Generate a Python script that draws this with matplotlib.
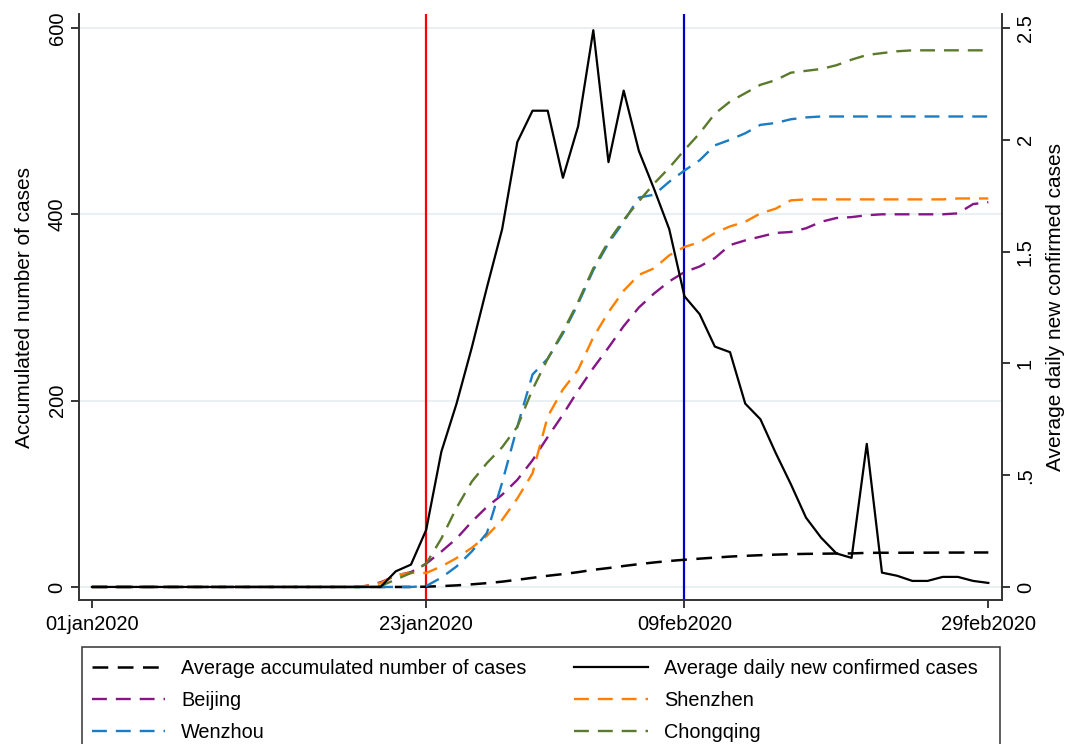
import numpy as np
import matplotlib
matplotlib.use('Agg')
import matplotlib.pyplot as plt
from matplotlib.patches import Rectangle

plt.rcParams['font.family'] = ['Liberation Sans', 'DejaVu Sans']

# days since 01jan2020 (01jan .. 29feb)
days = np.arange(60)
tick_days = [0, 22, 39, 59]
tick_labels = ['01jan2020', '23jan2020', '09feb2020', '29feb2020']

# average daily new confirmed cases (right axis)
daily_avg = [0]*20 + [0.07, 0.10, 0.255, 0.605, 0.82, 1.07, 1.34, 1.60, 1.99, 2.13,
             2.13, 1.83, 2.06, 2.49, 1.90, 2.22, 1.95, 1.78, 1.60, 1.30,
             1.22, 1.075, 1.05, 0.82, 0.75, 0.60, 0.46, 0.31, 0.22, 0.15,
             0.13, 0.64, 0.064, 0.05, 0.027, 0.027, 0.045, 0.045, 0.027, 0.018]

# average accumulated number of cases (left axis)
accum_avg = [0]*22 + [0.3, 0.9, 1.7, 2.8, 4.1, 5.7, 7.7, 9.8,
             12.0, 13.8, 15.9, 18.4, 20.3, 22.5, 24.5, 26.3, 27.9, 29.2,
             30.4, 31.5, 32.6, 33.4, 34.1, 34.7, 35.2, 35.5, 35.7, 35.9,
             36.0, 36.6, 36.7, 36.7, 36.8, 36.8, 36.9, 36.9, 37.0, 37.0]

beijing = [0]*18 + [1, 5, 12, 16, 25, 38, 52, 70, 86, 99, 115, 136,
           161, 185, 211, 235, 257, 280, 300, 315, 328, 338,
           344, 353, 367, 372, 376, 380, 381, 385, 392, 396,
           397, 399, 400, 400, 400, 400, 400, 401, 411, 413]

shenzhen = [0]*18 + [1, 4, 13, 15, 15, 22, 31, 42, 55, 72, 95, 122,
            183, 212, 233, 268, 295, 318, 335, 342, 356, 365,
            370, 380, 387, 392, 401, 406, 415, 416, 416, 416,
            416, 416, 416, 416, 416, 416, 416, 417, 417, 417]

wenzhou = [0]*22 + [1, 10, 22, 38, 58, 112, 172, 228,
           245, 272, 304, 340, 369, 392, 418, 421, 435, 447,
           458, 474, 480, 487, 496, 498, 502, 504, 505, 505,
           505, 505, 505, 505, 505, 505, 505, 505, 505, 505]

chongqing = [0]*18 + [0, 1, 8, 15, 25, 52, 85, 113, 133, 150, 172, 212,
             245, 274, 306, 342, 371, 394, 414, 433, 450, 469,
             487, 508, 521, 530, 539, 544, 552, 554, 556, 560,
             566, 571, 573, 575, 576, 576, 576, 576, 576, 576]

c_beij = '#861585'
c_shen = '#ff8000'
c_wenz = '#1a7cc4'
c_chon = '#5b7a2c'
dash = (0, (6.3, 3.8))

fig = plt.figure(figsize=(10.69, 7.44), dpi=100)
ax = fig.add_axes([79/1069, 1-600/744, (1002-79)/1069, (600-14)/744])
ax2 = ax.twinx()

ax.set_xlim(-0.85, 59.9)
ax.set_ylim(-14, 615)
ax2.set_ylim(-14/240, 615/240)

for a in (ax, ax2):
    a.spines['top'].set_visible(False)
    for s in a.spines.values():
        s.set_color('#333333')
        s.set_linewidth(1.2)

ax.set_yticks([0, 200, 400, 600])
ax.grid(axis='y', color='#e8f0f2', linewidth=1.5)
ax.set_axisbelow(True)
ax2.set_yticks([0, 0.5, 1, 1.5, 2, 2.5])
ax2.set_yticklabels(['0', '.5', '1', '1.5', '2', '2.5'])

ax.set_xticks(tick_days)
ax.set_xticklabels(tick_labels)

ax.tick_params(axis='x', length=6, width=1.1, labelsize=14.5, pad=5)
ax.tick_params(axis='y', length=6, width=1.1, labelsize=14.5, pad=3, labelrotation=90)
ax2.tick_params(axis='y', length=6, width=1.1, labelsize=14.5, pad=4, labelrotation=90)
for lab in ax.get_yticklabels() + ax2.get_yticklabels():
    lab.set_va('center')

ax.set_ylabel('Accumulated number of cases', fontsize=15, labelpad=10)
ax2.set_ylabel('Average daily new confirmed cases', fontsize=15, labelpad=8)

ax.axvline(22, color='#ff0000', lw=1.6)
ax.axvline(39, color='#0000cc', lw=1.6)

l1, = ax.plot(days, accum_avg, color='black', lw=1.8, linestyle=dash)
l3, = ax.plot(days, beijing, color=c_beij, lw=1.7, linestyle=dash)
l4, = ax.plot(days, shenzhen, color=c_shen, lw=1.7, linestyle=dash)
l5, = ax.plot(days, wenzhou, color=c_wenz, lw=1.7, linestyle=dash)
l6, = ax.plot(days, chongqing, color=c_chon, lw=1.7, linestyle=dash)
l2, = ax2.plot(days, daily_avg, color='black', lw=1.6)

# legend frame (runs off the bottom like the original)
fig.patches.append(Rectangle((82/1069, -0.05), (1000-82)/1069, 0.05 + 1-647/744,
                             transform=fig.transFigure, fill=False,
                             edgecolor='#333333', lw=1.1, clip_on=False))

# column-major order so rows read: accum | daily, Beijing | Shenzhen, Wenzhou | Chongqing
handles = [l1, l3, l5, l2, l4, l6]
labels = ['Average accumulated number of cases', 'Beijing', 'Wenzhou',
          'Average daily new confirmed cases', 'Shenzhen', 'Chongqing']
fig.legend(handles, labels, ncol=2, loc='upper left',
           bbox_to_anchor=(85/1069, 1-652/744),
           fontsize=14.3, frameon=False,
           handlelength=3.7, handletextpad=0.8, columnspacing=2.4,
           labelspacing=0.65, borderpad=0.35, borderaxespad=0)

plt.savefig('out.png', dpi=100)
